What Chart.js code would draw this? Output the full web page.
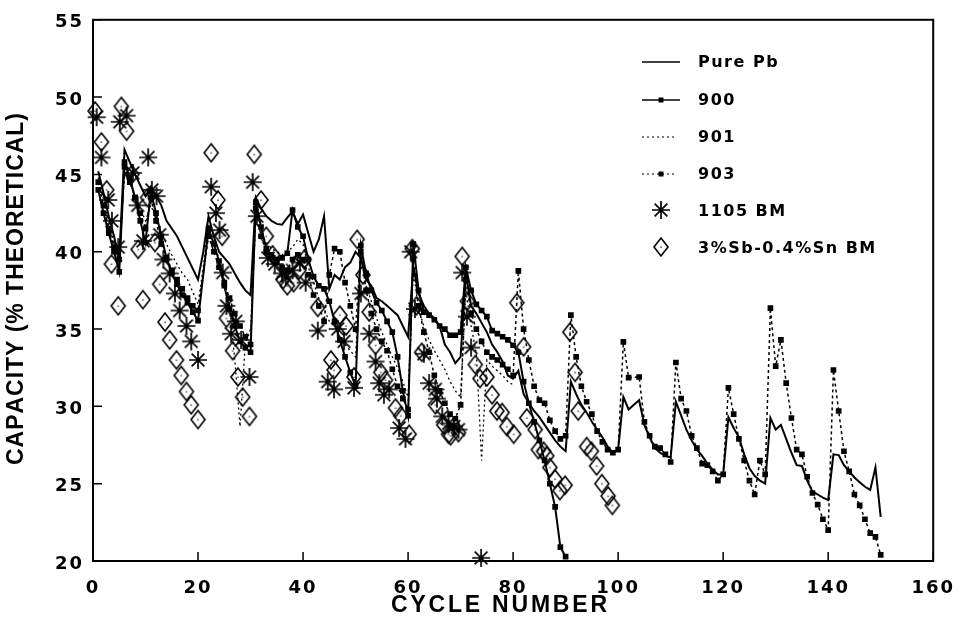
<!DOCTYPE html>
<html>
<head>
<meta charset="utf-8">
<title>Capacity vs cycle number</title>
<script src="https://cdn.jsdelivr.net/npm/chart.js@4.4.0/dist/chart.umd.min.js"></script>
<style>
  html, body { margin: 0; padding: 0; background: #fff; }
  #wrap { width: 969px; height: 627px; }
</style>
</head>
<body>
<div id="wrap"><canvas id="grafica" width="969" height="627"></canvas></div>
<script>
// Valores por ciclo (posición i = ciclo i + 1), null = sin medida
const purePb = [
  45.2, 43.8, 42.3, 41.0, 39.6, 46.6, 45.8, 45.0, 44.3, 43.6,
  44.2, 43.6, 43.0, 42.0, 41.5, 41.0, 40.3, 39.6, 38.9, 38.2,
  40.0, 42.3, 41.0, 40.0, 39.6, 39.2, 38.6, 38.0, 37.5, 37.2,
  43.5, 42.8, 42.3, 42.0, 41.8, 41.75, 42.2, 42.6, 41.8, 42.4,
  41.2, 40.0, 40.8, 42.3, 37.6, 38.5, 38.2, 39.0, 39.3, 40.0,
  39.6, 38.2, 37.8, 37.0, 36.8, 36.5, 36.2, 35.9, 35.2, 34.5,
  39.0, 37.3, 36.5, 36.0, 35.7, 35.2, 34.0, 33.5, 32.8, 33.2,
  38.6, 36.5, 36.0, 35.4, 34.8, 34.0, 33.5, 32.9, 32.0, 31.8,
  32.3, 30.8, 30.2, 29.7, 29.3, 28.8, 28.3, 27.8, 27.4, 27.1,
  31.6, 30.8, 30.1, 29.6, 29.0, 28.5, 28.0, 27.4, 27.0, 27.2,
  30.6, 29.8, 30.1, 30.4, 28.8, 28.0, 27.3, 27.0, 26.8, 26.7,
  30.3, 29.4, 28.5, 27.8, 27.2, 26.8, 26.3, 25.9, 25.6, 25.6,
  29.3, 28.6, 28.0, 26.9, 26.0, 25.5, 25.2, 25.0, 29.25, 28.5,
  28.8, 27.9, 27.0, 26.2, 26.15, 25.2, 24.5, 24.3, 24.1, 23.95,
  26.9, 26.85, 26.2, 25.8, 25.4, 25.1, 24.8, 24.6, 26.05, 22.85
];

const serie900 = [
  44.0, 42.5, 41.2, 40.0, 38.7, 45.8, 44.8, 43.5, 42.0, 40.6,
  43.9, 42.5, 41.0, 39.6, 38.6, 37.9, 37.2, 36.7, 36.1, 35.55,
  null, 41.5, 40.5, 39.4, 37.8, 36.3, 35.2, 34.2, 33.8, 33.5,
  43.2, 41.6, 40.2, 39.8, 39.5, 39.6, 39.9, 42.7, 41.6, 41.0,
  39.5, 38.4, 37.8, 37.6, 36.8, 35.5, 34.3, 33.2, 32.2, 31.3,
  40.4, 38.6, 37.5, 36.7, 36.2, 35.5, 34.8, 33.2, 31.0, 29.4,
  40.5, 37.5, 36.1, 35.9, 35.6, 35.2, 35.0, 34.6, 34.6, 34.8,
  39.0, 37.5, 36.6, 36.2, 35.8, 34.9, 34.7, 34.5, 34.3, 33.95,
  33.5, 31.6, 30.2, 29.0, 27.8, 26.5, 25.0, 23.5, 20.9, 20.28
];

const serie901 = [
  44.8, 43.4, 42.0, 40.6, 39.2, 45.2, 44.5, 43.6, 42.8, 42.0,
  43.0, 42.2, 41.3, 40.5, 39.8, 39.2, 38.6, 38.2, 37.4, 36.6,
  39.0, 41.8, 40.6, 39.5, 38.3, 36.5, 33.0, 28.7, 34.0, 35.0,
  42.0, 41.2, 40.6, 40.2, 40.0, 39.8, 40.0, 40.3, 40.8, 40.5,
  39.0, 38.0, 37.0, 36.3, 35.5, 35.2, 34.5, 34.0, 33.6, 33.2,
  39.8, 37.8, 36.8, 35.7, 34.8, 34.0, 33.2, 32.5, 31.6, 30.6,
  38.8, 36.3, 35.2, 34.3, 33.6, 33.0, 32.4, 31.6, 31.0, 30.6,
  37.5, 35.2, 33.4, 26.5, 33.0, 32.6, 32.3, 32.0, 31.6, 31.4
];

const serie903 = [
  44.5, 43.0, 41.5, 40.3, 39.5, 45.5, 44.5, 43.5, 42.5, 41.5,
  43.5, 42.0, 40.5, 39.5, 38.8, 38.2, 37.6, 37.0, 36.5, 36.2,
  null, 41.0, 40.0, 39.0, 38.0, 37.0, 36.0, 35.2, 34.5, 34.0,
  42.8, 41.0, 40.0, 39.6, 39.3, 39.0, 38.8, 39.5, 39.8, 39.5,
  38.5, 37.2, 36.5, 35.5, 38.5, 40.2, 40.0, 38.0, 36.5, 35.0,
  40.0, 37.5, 36.0, 35.0, 34.2, 33.6, 32.4, 31.3, 30.5, 29.8,
  39.5, 36.5, 34.8, 33.5, 32.0, 31.0, 30.2, 29.5, 29.2, 30.1,
  38.2, 36.0, 35.0, 34.2, 33.5, 33.2, 33.0, 32.7, 32.4, 32.0,
  38.76, 35.0, 33.0, 31.3, 30.4, 30.2, 29.1, 28.4, 27.9, 28.1,
  35.9, 33.2, 31.3, 30.3, 29.5, 28.4, 27.7, 27.2, 27.0, 27.2,
  34.17, 31.86, null, 31.9, 29.0, 28.1, 27.4, 27.3, 26.9, 26.4,
  32.84, 30.5, 29.7, 28.1, 27.3, 26.3, 26.2, 25.8, 25.2, 25.6,
  31.2, 29.5, 27.9, 26.5, 25.2, 24.3, 26.5, 25.6, 36.35, 32.6,
  34.3, 31.5, 29.25, 27.2, 26.9, 25.45, 24.4, 23.65, 22.7, 22.0,
  32.35, 29.7, 27.1, 25.8, 24.3, 23.6, 22.7, 21.8, 21.56, 20.4
];

// 1105 BM (asteriscos)
const ciclos1105 = [
  0.7, 1.6, 2.9, 3.6, 4.8, 5.1, 6.4, 7.6, 8.5, 9.5,
  10.5, 11.2, 12.1, 12.7, 13.4, 14.6, 15.6, 16.5, 17.8, 18.7,
  20.0, 22.5, 23.4, 24.1, 24.7, 25.4, 26.3, 27.2, 28.2, 29.8,
  30.4, 31.2, 33.3, 34.6, 36.0, 36.7, 38.0, 39.4, 40.5, 42.8,
  44.7, 45.9, 46.6, 47.8, 49.7, 51.0, 52.6, 53.8, 54.5, 55.4,
  56.4, 58.3, 59.5, 60.5, 61.3, 63.0, 64.0, 65.2, 65.5, 66.5,
  67.7, 68.7, 69.6, 70.3, 71.2, 72.0, 73.9
];
const valores1105 = [
  48.7, 46.1, 43.35, 42.0, 40.3, 48.4, 48.8, 45.1, 43.0, 40.7,
  46.1, 44.0, 43.6, 41.1, 39.5, 38.6, 37.3, 36.2, 35.2, 34.2,
  33.0, 44.2, 42.5, 41.4, 38.65, 36.5, 34.7, 35.5, 34.3, 31.9,
  44.5, 42.3, 39.6, 39.2, 38.6, 38.4, 38.8, 39.3, 38.0, 34.9,
  31.6, 31.1, 35.0, 34.2, 31.2, 37.3, 34.7, 32.9, 31.5, 30.75,
  31.1, 28.6, 27.9, 40.0, 36.3, 33.4, 31.5, 31.1, 30.5, 29.35,
  28.9, 28.7, 28.5, 38.65, 35.8, 33.8, 20.2
];

// 3%Sb-0.4%Sn BM (rombos)
const ciclosSbSn = [
  0.4, 1.6, 2.6, 3.5, 4.8, 5.4, 6.4, 7.4, 8.6, 9.5,
  10.4, 11.8, 12.7, 13.7, 14.6, 15.9, 16.8, 17.8, 18.7, 20.0,
  22.5, 23.8, 24.6, 25.4, 26.6, 27.6, 28.5, 29.8, 30.7, 32.0,
  33.0, 34.2, 36.2, 37.0, 38.2, 39.2, 40.2, 42.8, 45.3, 45.9,
  47.0, 48.2, 49.7, 50.3, 51.4, 52.6, 53.8, 54.8, 55.7, 57.6,
  58.6, 60.2, 60.8, 61.6, 62.6, 65.2, 66.8, 67.7, 68.1, 69.6,
  70.3, 71.3, 72.8, 73.7, 75.0, 76.0, 76.9, 77.9, 78.8, 80.1,
  80.7, 82.0, 82.6, 84.2, 84.8, 85.8, 86.4, 87.0, 88.0, 88.9,
  89.9, 90.8, 91.8, 92.4, 94.0, 94.9, 95.9, 96.9, 98.1, 98.9
];
const valoresSbSn = [
  49.1, 47.1, 44.0, 39.2, 36.5, 49.4, 47.8, 45.0, 40.15, 36.9,
  43.5, 40.6, 37.9, 35.45, 34.3, 33.0, 32.0, 30.96, 30.1, 29.15,
  46.4, 43.35, 41.0, 35.7, 33.6, 31.9, 30.6, 29.35, 46.3, 43.35,
  41.0, 39.8, 38.2, 37.8, 38.0, 38.8, 39.5, 36.4, 33.0, 32.35,
  35.9, 35.2, 31.9, 40.8, 38.5, 36.1, 33.95, 32.2, 31.7, 29.9,
  29.4, 28.2, 40.2, 36.5, 33.5, 30.1, 28.8, 28.2, 28.1, 28.3,
  39.7, 36.8, 32.7, 31.8, 31.9, 30.75, 29.7, 29.6, 28.7, 28.2,
  36.7, 33.85, 29.25, 28.5, 27.2, 27.1, 26.8, 26.05, 25.3, 24.55,
  24.9, 34.8, 32.2, 29.7, 27.4, 27.1, 26.15, 25.0, 24.2, 23.6
];

const etiquetas = ['Pure Pb', '900', '901', '903', '1105 BM', '3%Sb-0.4%Sn BM'];

function porCiclo(valores) {
  return valores.map((v, i) => ({ x: i + 1, y: v })).filter(p => p.y !== null);
}
function dispersion(xs, ys) {
  return xs.map((x, i) => ({ x: x, y: ys[i] }));
}

// Marcadores dibujados a mano
function crearAsterisco(r) {
  const c = document.createElement('canvas');
  c.width = c.height = 2 * r + 4;
  const g = c.getContext('2d');
  const m = r + 2;
  g.strokeStyle = '#000';
  g.lineWidth = 1.7;
  g.beginPath();
  for (let i = 0; i < 4; i++) {
    const a = i * Math.PI / 4;
    g.moveTo(m + r * Math.cos(a), m + r * Math.sin(a));
    g.lineTo(m - r * Math.cos(a), m - r * Math.sin(a));
  }
  g.stroke();
  return c;
}
function crearRombo(hw, hh) {
  const c = document.createElement('canvas');
  c.width = 2 * hw + 4;
  c.height = 2 * hh + 4;
  const g = c.getContext('2d');
  const cx = hw + 2, cy = hh + 2;
  g.strokeStyle = '#000';
  g.lineWidth = 1.6;
  g.beginPath();
  g.moveTo(cx, cy - hh);
  g.lineTo(cx + hw, cy);
  g.lineTo(cx, cy + hh);
  g.lineTo(cx - hw, cy);
  g.closePath();
  g.stroke();
  g.fillStyle = '#000';
  g.fillRect(cx - 0.5, cy - 0.5, 1, 1.5);
  return c;
}
const asterisco = crearAsterisco(9);
const rombo = crearRombo(7, 9);

const fuente = 'DejaVu Sans';
const fuenteTitulo = 'Liberation Sans';

// Texto espaciado letra a letra para que ocupe un ancho dado
function textoEspaciado(ctx, texto, cx, cy, ancho) {
  const letras = Array.from(texto);
  const anchos = letras.map(l => ctx.measureText(l).width);
  const total = anchos.reduce((s, w) => s + w, 0);
  const hueco = (ancho - total) / (letras.length - 1);
  let xx = cx - ancho / 2;
  ctx.textAlign = 'left';
  letras.forEach((l, i) => {
    ctx.fillText(l, xx, cy);
    xx += anchos[i] + hueco;
  });
}

const marcoPlugin = {
  id: 'marco',
  beforeDraw(chart) {
    chart.ctx.letterSpacing = '2px';
  },
  afterDraw(chart) {
    const { ctx, chartArea: a, scales: { x, y } } = chart;
    ctx.save();
    ctx.strokeStyle = '#000';
    ctx.lineWidth = 2;
    ctx.strokeRect(a.left, a.top, a.right - a.left, a.bottom - a.top);

    // marcas hacia dentro
    ctx.lineWidth = 1.5;
    ctx.beginPath();
    x.ticks.forEach(t => {
      const px = x.getPixelForValue(t.value);
      ctx.moveTo(px, a.bottom);
      ctx.lineTo(px, a.bottom - 9);
    });
    y.ticks.forEach(t => {
      const py = y.getPixelForValue(t.value);
      ctx.moveTo(a.left, py);
      ctx.lineTo(a.left + 9, py);
    });
    ctx.stroke();

    // títulos de ejes
    ctx.fillStyle = '#000';
    ctx.letterSpacing = '0px';
    ctx.font = 'bold 23px "' + fuenteTitulo + '"';
    ctx.textBaseline = 'middle';
    textoEspaciado(ctx, 'CYCLE NUMBER', 499, 606, 216);
    ctx.save();
    ctx.translate(17, 289);
    ctx.rotate(-Math.PI / 2);
    textoEspaciado(ctx, 'CAPACITY (% THEORETICAL)', 0, 0, 352);
    ctx.restore();

    // leyenda
    const filas = [63, 101, 138, 175, 212, 249];
    const x0 = 642, x1 = 680, xm = 661;
    ctx.font = 'bold 16px "' + fuente + '"';
    ctx.textAlign = 'left';
    ctx.letterSpacing = '1.5px';
    filas.forEach((fy, i) => {
      ctx.fillText(etiquetas[i], 698, fy);
    });
    ctx.lineWidth = 1.6;
    // Pure Pb
    ctx.beginPath(); ctx.moveTo(x0, filas[0] - 1); ctx.lineTo(x1, filas[0] - 1); ctx.stroke();
    // 900
    ctx.beginPath(); ctx.moveTo(x0, filas[1] - 1); ctx.lineTo(x1, filas[1] - 1); ctx.stroke();
    ctx.fillRect(xm - 2.5, filas[1] - 3.5, 5, 5);
    // 901
    ctx.setLineDash([2, 3]);
    ctx.lineWidth = 1.2;
    ctx.beginPath(); ctx.moveTo(x0, filas[2] - 1); ctx.lineTo(x1 - 4, filas[2] - 1); ctx.stroke();
    // 903
    ctx.beginPath(); ctx.moveTo(x0, filas[3] - 1); ctx.lineTo(x1 - 4, filas[3] - 1); ctx.stroke();
    ctx.setLineDash([]);
    ctx.fillRect(xm - 2.5, filas[3] - 3.5, 5, 5);
    ctx.drawImage(asterisco, xm - asterisco.width / 2, filas[4] - 2 - asterisco.height / 2);
    ctx.drawImage(rombo, xm - rombo.width / 2, filas[5] - 2 - rombo.height / 2);
    ctx.restore();
  }
};

const ctx = document.getElementById('grafica').getContext('2d');
new Chart(ctx, {
  type: 'line',
  data: {
    datasets: [
      {
        label: etiquetas[0], data: porCiclo(purePb),
        borderColor: '#000', borderWidth: 2, pointRadius: 0, tension: 0
      },
      {
        label: etiquetas[1], data: porCiclo(serie900),
        borderColor: '#000', borderWidth: 2, tension: 0,
        pointStyle: 'rect', pointRadius: 4, backgroundColor: '#000', pointBorderWidth: 0
      },
      {
        label: etiquetas[2], data: porCiclo(serie901),
        borderColor: '#000', borderWidth: 1.3, borderDash: [2, 3], pointRadius: 0, tension: 0
      },
      {
        label: etiquetas[3], data: porCiclo(serie903),
        borderColor: '#000', borderWidth: 1.5, borderDash: [3, 3], tension: 0,
        pointStyle: 'rect', pointRadius: 4, backgroundColor: '#000', pointBorderWidth: 0
      },
      {
        label: etiquetas[4], data: dispersion(ciclos1105, valores1105),
        showLine: false, pointStyle: asterisco, pointRadius: 9, clip: false
      },
      {
        label: etiquetas[5], data: dispersion(ciclosSbSn, valoresSbSn),
        showLine: false, pointStyle: rombo, pointRadius: 9, clip: false
      }
    ]
  },
  options: {
    responsive: false,
    animation: false,
    events: [],
    layout: { padding: { top: 15, right: 33, left: 0, bottom: 0 } },
    plugins: { legend: { display: false }, tooltip: { enabled: false } },
    scales: {
      x: {
        type: 'linear', min: 0, max: 160,
        ticks: { stepSize: 20, color: '#000', padding: 17, font: { family: fuente, size: 18, weight: 'bold' } },
        grid: { display: false, drawTicks: false },
        border: { display: false },
        afterFit(scale) { scale.height = 66; }
      },
      y: {
        min: 20, max: 55,
        ticks: { stepSize: 5, color: '#000', padding: 9, labelOffset: 3, font: { family: fuente, size: 18, weight: 'bold' } },
        grid: { display: false, drawTicks: false },
        border: { display: false },
        afterFit(scale) { scale.width = 93; }
      }
    }
  },
  plugins: [marcoPlugin]
});
</script>
</body>
</html>
